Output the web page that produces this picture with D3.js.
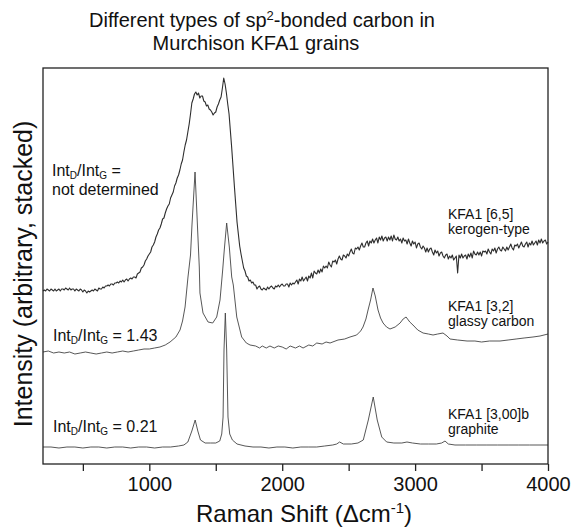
<!DOCTYPE html>
<html>
<head>
<meta charset="utf-8">
<script src="https://cdn.jsdelivr.net/npm/d3@7"></script>
<style>
  body { margin: 0; background: #fff; }
  svg { font-family: "Liberation Sans", Arial, sans-serif; }
  .spec { fill: none; stroke: #444; stroke-width: 0.9; stroke-linejoin: round; }
  .axis text { font-size: 20px; fill: #111; }
</style>
</head>
<body>
<div id="container"></div>
<script>
// kerogen-type spectrum, sampled every 10 cm-1 from 200 to 4000 (arbitrary, stacked)
const KEROGEN_START = 200, KEROGEN_STEP = 10;
const kerogen = [
  173,174,173,175,174,173,175,174,173,175,
  173,174,175,173,175,175,174,176,175,174,
  176,174,175,175,173,175,174,173,175,174,
  172,174,173,171,173,172,173,174,173,175,
  174,173,176,175,175,177,176,178,178,179,
  178,180,180,179,181,181,182,181,183,182,
  184,182,184,185,183,185,186,185,187,187,
  186,190,191,192,196,197,199,203,205,208,
  210,212,217,219,222,227,230,234,236,240,
  245,246,251,255,258,260,266,269,272,278,
  281,286,289,294,300,304,312,319,324,332,
  340,350,361,365,370,372,369,371,366,368,
  368,363,362,358,359,355,354,352,349,351,
  352,357,360,364,367,376,386,380,371,360,
  350,333,316,297,278,260,242,230,218,210,
  203,196,193,188,187,183,184,181,182,179,
  179,175,177,178,175,174,176,175,174,177,
  175,177,178,176,175,178,177,179,177,179,
  180,178,178,180,180,177,181,179,181,180,
  182,184,180,185,183,187,183,185,187,183,
  188,186,191,186,193,191,190,194,191,195,
  192,198,196,198,196,202,199,197,203,202,
  204,200,205,208,205,204,209,208,206,210,
  208,212,215,211,210,216,215,217,214,218,
  221,217,217,221,223,218,223,221,225,221,
  224,226,221,227,224,228,223,226,227,223,
  227,224,228,223,229,225,224,227,223,225,
  221,226,223,224,220,225,221,218,223,220,
  222,216,220,221,217,215,218,216,212,216,
  212,215,216,212,209,214,211,213,208,211,
  212,208,206,209,210,205,208,206,209,204,
  206,208,191,209,206,210,206,208,209,205,
  210,207,211,206,213,210,209,212,209,212,
  208,213,212,213,210,215,212,210,215,213,
  216,211,215,217,214,213,217,215,213,217,
  214,217,220,216,214,219,218,220,216,219,
  222,218,217,220,222,217,221,219,223,219,
  221,223,219,224,221,225,221,223,224,220,
  222
];

// glassy carbon spectrum [wavenumber, intensity]
const glassy = [
  [200,112],[240,113],[280,111],[320,112],[360,111],[400,112],[440,110],[480,111],
  [520,112],[560,111],[600,110],[640,111],[680,112],[720,111],[760,112],[800,113],
  [840,112],[880,113],[920,114],[960,115],[1000,115],[1040,116],[1080,117],[1120,119],
  [1156,122],[1200,127],[1231,134],[1250,143],[1269,157],[1291,187],[1310,209],[1321,239],
  [1344,292],[1357,254],[1376,197],[1381,171],[1404,151],[1442,142],[1477,141],[1507,147],
  [1532,164],[1552,194],[1564,214],[1582,241],[1602,217],[1620,187],[1632,179],[1658,147],
  [1695,127],[1730,121],[1758,119],[1800,118],[1830,116],[1850,118],[1880,116],[1908,118],
  [1940,116],[1970,118],[2000,117],[2030,115],[2060,118],[2100,116],[2130,118],[2157,116],
  [2200,119],[2230,118],[2260,121],[2300,120],[2330,122],[2360,121],[2420,124],[2470,125],
  [2510,127],[2560,129],[2590,133],[2608,137],[2630,145],[2646,154],[2665,164],[2683,176],
  [2700,168],[2721,154],[2740,146],[2759,141],[2785,137],[2811,135],[2850,137],[2887,141],
  [2910,145],[2932,147],[2960,142],[2984,139],[3020,134],[3060,131],[3100,130],[3135,129],
  [3170,130],[3210,131],[3240,128],[3263,125],[3320,124],[3391,123],[3450,123],[3500,122],
  [3560,123],[3639,123],[3700,124],[3760,125],[3820,126],[3887,127],[3940,128],[4000,130]
];

// graphite spectrum [wavenumber, intensity]
const graphite = [
  [200,17],[260,17],[320,16],[380,17],[440,17],[500,16],[560,17],[620,17],[680,16],
  [740,17],[800,17],[860,16],[920,17],[980,17],[1040,16],[1100,17],[1160,17],[1220,18],
  [1260,19],[1290,22],[1320,33],[1345,44],[1365,33],[1385,24],[1420,21],[1460,21],
  [1500,21],[1530,23],[1545,30],[1555,47],[1562,114],[1572,151],[1582,114],[1592,47],
  [1605,30],[1625,24],[1660,20],[1720,18],[1780,17],[1840,17],[1900,16],[1960,17],
  [2020,17],[2080,16],[2140,17],[2200,17],[2260,17],[2320,18],[2380,19],[2410,20],
  [2432,22],[2460,20],[2520,20],[2570,21],[2610,24],[2648,44],[2685,67],[2715,44],
  [2749,27],[2786,22],[2840,21],[2900,21],[2939,22],[2980,21],[3040,20],[3100,20],
  [3160,20],[3200,21],[3225,23],[3250,20],[3300,19],[3380,19],[3460,19],[3540,19],
  [3620,19],[3700,19],[3780,19],[3860,19],[3940,19],[4000,19]
];

const xTicks = [500,1000,1500,2000,2500,3000,3500,4000];
const xTickLabels = ["","1000","","2000","","3000","","4000"];

const w = 573, h = 528;
const margin = {top: 68, right: 25, bottom: 64, left: 43};

const x = d3.scaleLinear()
    .domain([200, 4000])
    .range([margin.left, w - margin.right]);
const y = d3.scaleLinear()
    .domain([0, 396])
    .range([h - margin.bottom, margin.top]);

let svg = d3.select("#container")
    .append("svg")
    .attr("width", w)
    .attr("height", h);

let line = d3.line()
    .x(d => x(d[0]))
    .y(d => y(d[1]));

const kerogenPts = kerogen.map((v, i) => [KEROGEN_START + i * KEROGEN_STEP, v]);

svg.append("path").datum(graphite).attr("class", "spec").attr("d", line);
svg.append("path").datum(glassy).attr("class", "spec").attr("d", line);
svg.append("path").datum(kerogenPts).attr("class", "spec")
    .style("stroke", "#2e2e2e").style("stroke-width", 1.1).attr("d", line);

// frame
svg.append("rect")
    .attr("x", margin.left)
    .attr("y", margin.top)
    .attr("width", w - margin.left - margin.right)
    .attr("height", h - margin.top - margin.bottom)
    .attr("fill", "none")
    .attr("stroke", "#222")
    .attr("stroke-width", 1.3);

let xAxis = d3.axisBottom(x)
    .tickValues(xTicks)
    .tickSize(7)
    .tickSizeOuter(0)
    .tickFormat((d, i) => xTickLabels[i]);

let gx = svg.append("g")
    .attr("class", "axis")
    .attr("transform", "translate(0," + (h - margin.bottom) + ")")
    .call(xAxis);
gx.select(".domain").remove();
gx.selectAll("line").attr("stroke", "#222").attr("stroke-width", 1.3);
gx.selectAll("text").attr("y", 13).attr("font-family", null);

// title
let title = svg.append("g")
    .attr("font-size", 20)
    .attr("fill", "#111")
    .attr("text-anchor", "middle");
let t1 = title.append("text").attr("x", 262).attr("y", 27);
t1.append("tspan").text("Different types of sp");
t1.append("tspan").attr("dy", -7).attr("font-size", 13).text("2");
t1.append("tspan").attr("dy", 7).text("-bonded carbon in");
title.append("text").attr("x", 256).attr("y", 50).text("Murchison KFA1 grains");

// axis titles
let xl = svg.append("text")
    .attr("x", 304)
    .attr("y", 522)
    .attr("text-anchor", "middle")
    .attr("font-size", 24)
    .attr("fill", "#111");
xl.append("tspan").text("Raman Shift (\u0394cm");
xl.append("tspan").attr("dy", -9).attr("font-size", 15).text("-1");
xl.append("tspan").attr("dy", 9).text(")");

svg.append("text")
    .attr("transform", "translate(32,274) rotate(-90)")
    .attr("text-anchor", "middle")
    .attr("font-size", 25)
    .attr("fill", "#111")
    .text("Intensity (arbitrary, stacked)");

// ratio annotations
function intRatio(px, py, tail) {
    const t = svg.append("text")
        .attr("x", px).attr("y", py)
        .attr("font-size", 16).attr("fill", "#111");
    t.append("tspan").text("Int");
    t.append("tspan").attr("dy", 3).attr("font-size", 10).text("D");
    t.append("tspan").attr("dy", -3).text("/Int");
    t.append("tspan").attr("dy", 3).attr("font-size", 10).text("G");
    t.append("tspan").attr("dy", -3).text(tail);
}
intRatio(52, 176, " =");
svg.append("text").attr("x", 52).attr("y", 195)
    .attr("font-size", 16).attr("fill", "#111").text("not determined");
intRatio(53, 341, " = 1.43");
intRatio(53, 432, " = 0.21");

// sample labels
const sampleLabels = [
    ["KFA1 [6,5]", "kerogen-type", 219, 234],
    ["KFA1 [3,2]", "glassy carbon", 311, 326],
    ["KFA1 [3,00]b", "graphite", 419, 434]
];
sampleLabels.forEach(s => {
    const g = svg.append("g").attr("font-size", 14).attr("fill", "#111");
    g.append("text").attr("x", 448).attr("y", s[2]).text(s[0]);
    g.append("text").attr("x", 448).attr("y", s[3]).text(s[1]);
});
</script>
</body>
</html>
